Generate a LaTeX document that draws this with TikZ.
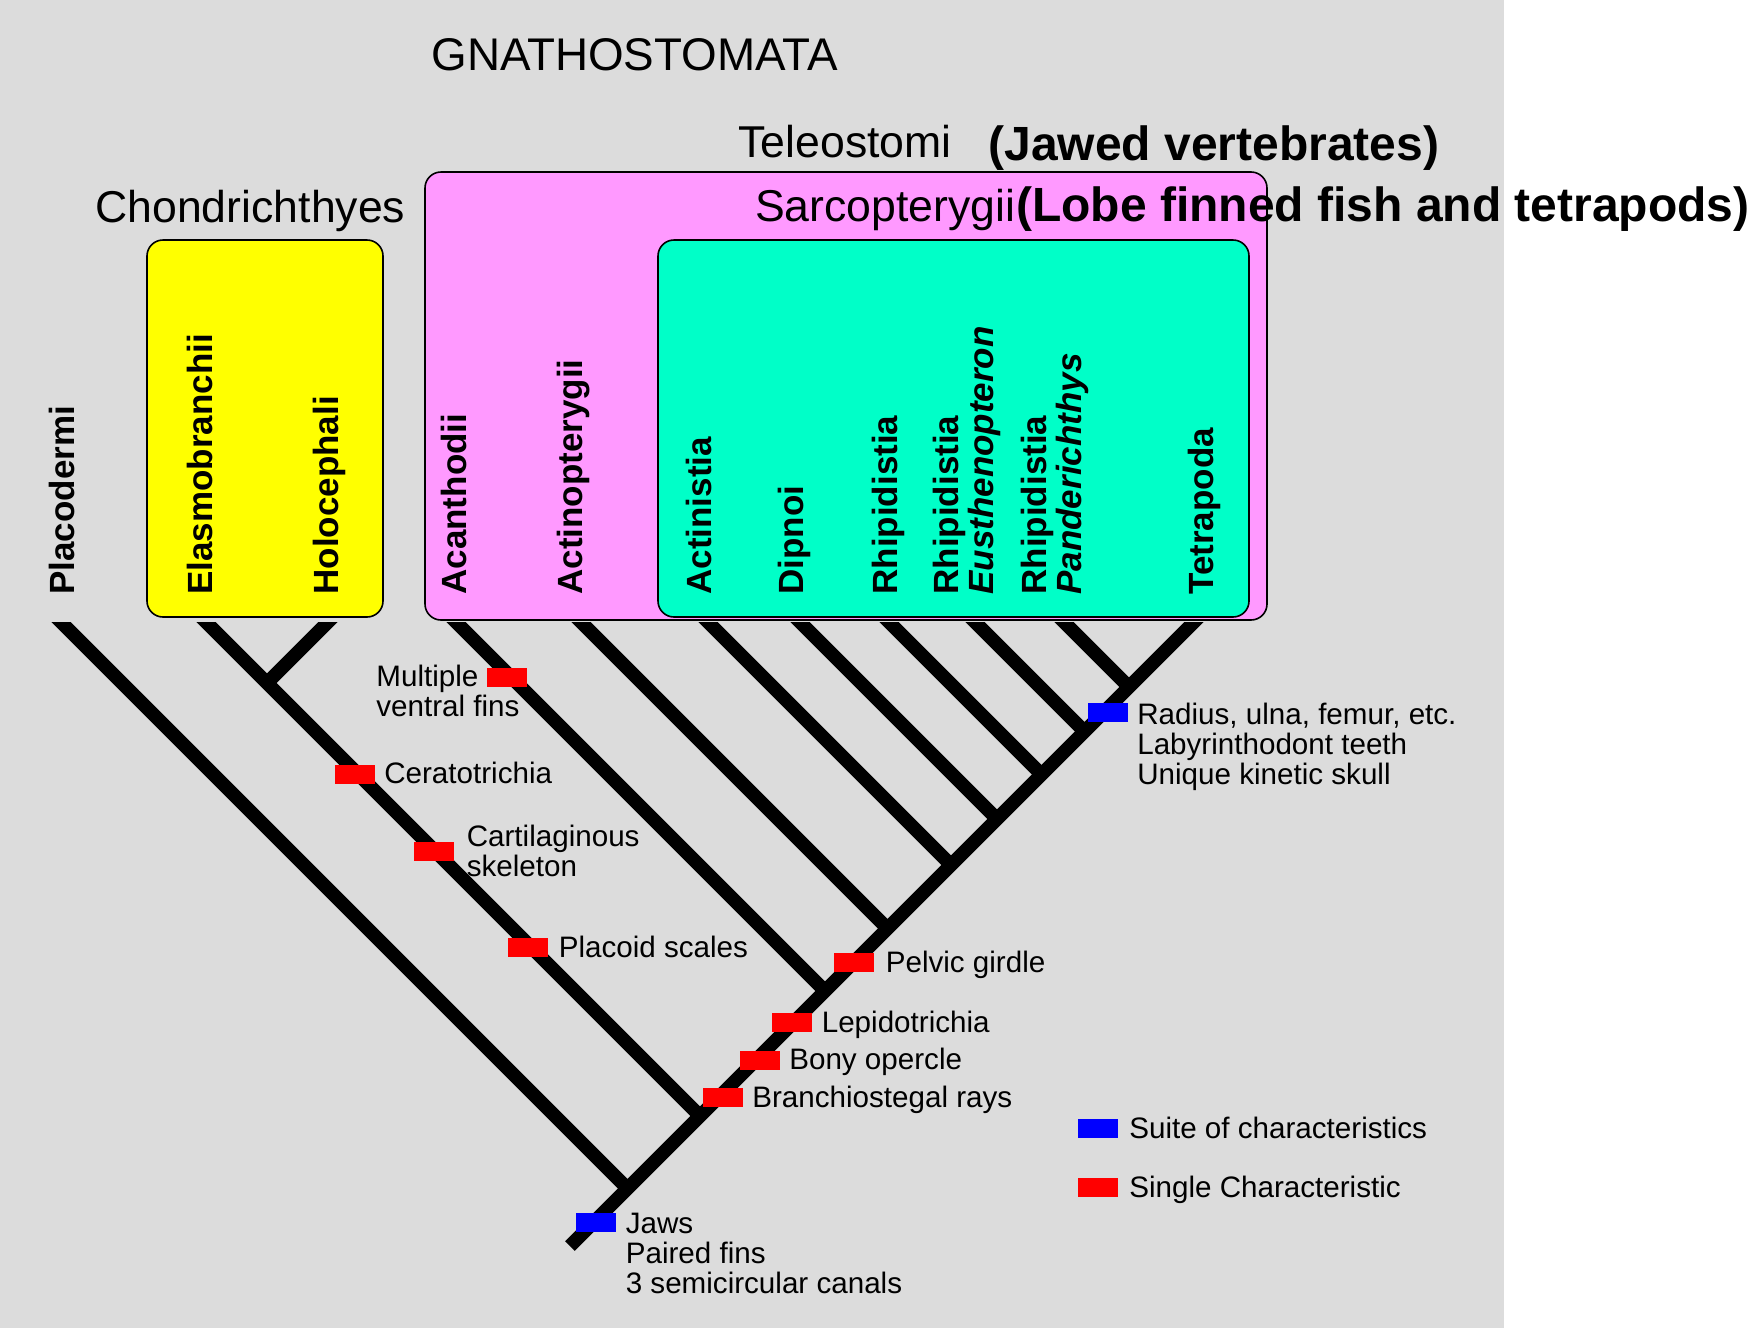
\documentclass[tikz,border=0pt]{standalone}
\usepackage{fontspec}
\setmainfont{Liberation Sans}
\definecolor{bggray}{RGB}{220,220,220}
\definecolor{pinkbox}{RGB}{255,153,255}
\definecolor{tealbox}{RGB}{0,255,200}
\definecolor{pureyellow}{RGB}{255,255,0}
\begin{document}
\begin{tikzpicture}[x=0.5pt,y=-0.5pt,
  head/.style={font=\fontsize{22.3}{26}\selectfont, inner sep=0, anchor=base west},
  boldhead/.style={font=\fontsize{24}{28}\selectfont\bfseries, inner sep=0},
  leaf/.style={font=\fontsize{17.5}{18}\selectfont\bfseries, rotate=90, inner sep=0, anchor=base west},
  leafit/.style={leaf, font=\fontsize{17.5}{18}\selectfont\bfseries\itshape},
  grpbox/.style={draw=black, line width=0.8pt, rounded corners=8pt, inner sep=0},
  branch/.style={line width=6.8pt, line cap=butt, draw=black},
  chr/.style={fill=red, minimum width=20pt, minimum height=9.5pt, inner sep=0},
  suite/.style={chr, fill=blue},
  lab/.style={font=\fontsize{14.8}{15}\selectfont, inner sep=0, align=left}
]
\fill[white] (0,0) rectangle (1754,1328);
\fill[bggray] (0,0) rectangle (1504,1328);
\useasboundingbox (0,0) rectangle (1754,1328);

% group boxes
\node[grpbox, fill=pinkbox, minimum width=421pt, minimum height=224pt] (teleobox) at (846,396) {};
\node[grpbox, fill=pureyellow, minimum width=118pt, minimum height=188.5pt] (chondbox) at (265,428.5) {};
\node[grpbox, fill=tealbox, minimum width=295.5pt, minimum height=188.5pt] (sarcobox) at (953.5,428.5) {};

% headings
\node[head, font=\fontsize{22.9}{26}\selectfont] (gnatho) at (431,70) {GNATHOSTOMATA};
\node[head] (teleo) at (738,157) {Teleostomi};
\node[boldhead, anchor=base west] (jawed) at (988,160) {(Jawed vertebrates)};
\node[head] (chond) at (95,222) {Chondrichthyes};
\node[boldhead, anchor=base east] (lobe) at (1750,221) {(Lobe finned fish and tetrapods)};
\node[head, anchor=base east] (sarco) at (lobe.base west) {Sarcopterygii};

% leaf labels
\node[leaf] (lPla) at (74,595) {Placodermi};
\node[leaf] (lEla) at (212,595) {Elasmobranchii};
\node[leaf] (lHol) at (338,595) {Holocephali};
\node[leaf] (lAca) at (466,595) {Acanthodii};
\node[leaf] (lAct) at (582,595) {Actinopterygii};
\node[leaf] (lAcn) at (711,595) {Actinistia};
\node[leaf] (lDip) at (803,595) {Dipnoi};
\node[leaf] (lRhi) at (897,595) {Rhipidistia};
\node[leaf] (lEusA) at (958,595) {Rhipidistia};
\node[leafit] (lEusB) at (993,595) {Eusthenopteron};
\node[leaf] (lPanA) at (1046,595) {Rhipidistia};
\node[leafit] (lPanB) at (1081,595) {Panderichthys};
\node[leaf] (lTet) at (1213,595) {Tetrapoda};

% tree
\begin{scope}
\clip (0,622) rectangle (1504,1328);
\coordinate (root) at (570,1246);
\coordinate (tPla) at (39,600);
\coordinate (tEla) at (184,600);
\coordinate (tHol) at (350,600);
\coordinate (tAca) at (434,600);
\coordinate (tAct) at (559,600);
\coordinate (tAcn) at (686,600);
\coordinate (tDip) at (778,600);
\coordinate (tRhi) at (867,600);
\coordinate (tEus) at (953,600);
\coordinate (tPan) at (1042,600);
\coordinate (tTet) at (1216,600);
\coordinate (jHol) at (267,683);
\coordinate (jPla) at (627.5,1188.5);
\coordinate (jEla) at (700,1116);
\coordinate (jAca) at (825,991);
\coordinate (jAct) at (887.5,928.5);
\coordinate (jAcn) at (951,865);
\coordinate (jDip) at (997,819);
\coordinate (jRhi) at (1041.5,774.5);
\coordinate (jEus) at (1084.5,731.5);
\coordinate (jPan) at (1129,687);
\draw[branch] (root) -- (tTet);
\draw[branch] (tPla) -- (jPla);
\draw[branch] (tEla) -- (jEla);
\draw[branch] (tHol) -- (jHol);
\draw[branch] (tAca) -- (jAca);
\draw[branch] (tAct) -- (jAct);
\draw[branch] (tAcn) -- (jAcn);
\draw[branch] (tDip) -- (jDip);
\draw[branch] (tRhi) -- (jRhi);
\draw[branch] (tEus) -- (jEus);
\draw[branch] (tPan) -- (jPan);
\end{scope}

% character markers
\node[suite] (mJaws) at (596,1222.5) {};
\node[chr] (mBra) at (722.5,1097.5) {};
\node[chr] (mBon) at (759.5,1060) {};
\node[chr] (mLep) at (792,1022.5) {};
\node[chr] (mPel) at (854,962.5) {};
\node[suite] (mRad) at (1107.5,712.5) {};
\node[chr] (mMul) at (506.5,677.5) {};
\node[chr] (mCer) at (354.5,774) {};
\node[chr] (mCar) at (434,851) {};
\node[chr] (mPla) at (528,947.5) {};

% character labels
\node[lab, anchor=north west] (tJaws) at ([xshift=4.5pt]mJaws.north east) {Jaws\\Paired fins\\3 semicircular canals};
\node[lab, anchor=base west] (tBra) at ([xshift=4.5pt]mBra.south east) {Branchiostegal rays};
\node[lab, anchor=base west] (tBon) at ([xshift=4.5pt]mBon.south east) {Bony opercle};
\node[lab, anchor=base west] (tLep) at ([xshift=4.5pt]mLep.south east) {Lepidotrichia};
\node[lab, anchor=base west] (tPel) at ([xshift=5.5pt]mPel.south east) {Pelvic girdle};
\node[lab, anchor=north west] (tRad) at ([xshift=4.5pt]mRad.north east) {Radius, ulna, femur, etc.\\Labyrinthodont teeth\\Unique kinetic skull};
\node[lab, anchor=north west] (tMul) at (376,665) {Multiple\\ventral fins};
\node[lab, anchor=base west] (tCer) at ([xshift=4.5pt]mCer.south east) {Ceratotrichia};
\node[lab, anchor=west] (tCar) at ([xshift=6pt]mCar.east) {Cartilaginous\\skeleton};
\node[lab, anchor=base west] (tPla) at ([xshift=5pt]mPla.south east) {Placoid scales};

% legend
\node[suite] (lgSuite) at (1097.5,1128.5) {};
\node[chr] (lgSingle) at (1097.5,1187.5) {};
\node[lab, anchor=base west] (lgSuiteT) at ([xshift=5.5pt]lgSuite.south east) {Suite of characteristics};
\node[lab, anchor=base west] (lgSingleT) at ([xshift=5.5pt]lgSingle.south east) {Single Characteristic};
\end{tikzpicture}
\end{document}
